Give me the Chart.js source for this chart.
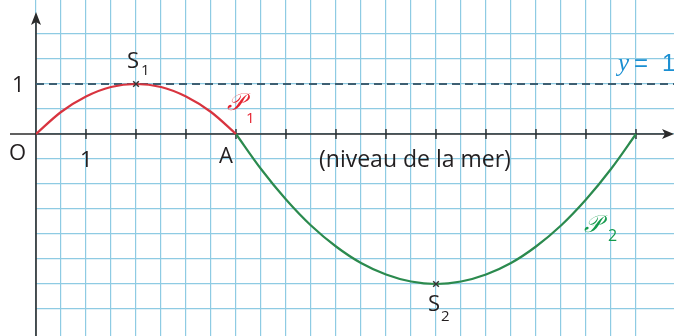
<!DOCTYPE html>
<html>
<head>
<meta charset="utf-8">
<script src="https://cdn.jsdelivr.net/npm/chart.js@4/dist/chart.umd.min.js"></script>
<style>
  html, body { margin: 0; padding: 0; background: #fff; }
  #wrap { width: 674px; height: 336px; position: relative; }
</style>
</head>
<body>
<div id="wrap"><canvas id="c"></canvas></div>
<script>
// P1 : de O à A, sommet S1
const p1X = [0, 0.5, 1, 1.5, 2, 2.5, 3, 3.5, 4];
const p1Y = [0, 0.44, 0.75, 0.94, 1, 0.94, 0.75, 0.44, 0];
// P2 : de A jusqu'à x = 12, sommet S2
const p2X = [4, 4.5, 5, 5.5, 6, 6.5, 7, 7.5, 8, 8.5, 9, 9.5, 10, 10.5, 11, 11.5, 12];
const p2Y = [0, -0.7, -1.31, -1.83, -2.25, -2.58, -2.81, -2.95, -3, -2.95, -2.81, -2.58, -2.25, -1.83, -1.31, -0.7, 0];
// sommets S1, S2
const summitX = [2, 8];
const summitY = [1, -3];
// droite y = 1
const levelY = 1;
// graduations de l'axe des abscisses
const xTicks = [1, 2, 3, 4, 5, 6, 7, 8, 9, 10, 11, 12];

// bornes de la fenêtre (unités du repère)
const X_MAX = 12.76, Y_MAX = 2.68, Y_MIN = -4.04;

const FONT = '"Open Sans", "Noto Sans", sans-serif';
const SCRIPT = 'italic 24px "DejaVu Serif", "Liberation Serif", serif';

const pts = (xs, ys) => xs.map((x, i) => ({ x, y: ys[i] }));

// axes + flèches + graduations (sous les courbes)
const axesPlugin = {
  id: 'axes',
  beforeDatasetsDraw(chart) {
    const { ctx, scales: { x, y } } = chart;
    const x0 = x.getPixelForValue(0), y0 = y.getPixelForValue(0);
    ctx.save();
    ctx.strokeStyle = '#2b2b2b';
    ctx.fillStyle = '#2b2b2b';
    ctx.lineWidth = 1.6;
    // axe des abscisses
    ctx.beginPath();
    ctx.moveTo(10, y0); ctx.lineTo(666, y0); ctx.stroke();
    ctx.beginPath();
    ctx.moveTo(674, y0); ctx.lineTo(662, y0 - 5); ctx.lineTo(665, y0); ctx.lineTo(662, y0 + 5);
    ctx.closePath(); ctx.fill();
    // axe des ordonnées
    ctx.beginPath();
    ctx.moveTo(x0, 336); ctx.lineTo(x0, 20); ctx.stroke();
    ctx.beginPath();
    ctx.moveTo(x0, 12); ctx.lineTo(x0 - 5, 25); ctx.lineTo(x0, 22); ctx.lineTo(x0 + 5, 25);
    ctx.closePath(); ctx.fill();
    // graduations
    ctx.lineWidth = 1.4;
    xTicks.forEach(v => {
      const px = x.getPixelForValue(v);
      ctx.beginPath(); ctx.moveTo(px, y0 - 5); ctx.lineTo(px, y0 + 5); ctx.stroke();
    });
    ctx.restore();
  },
  afterDatasetsDraw(chart) {
    const { ctx, scales: { x, y } } = chart;
    const X = v => x.getPixelForValue(v), Y = v => y.getPixelForValue(v);
    ctx.save();
    ctx.textBaseline = 'alphabetic';
    ctx.textAlign = 'left';
    ctx.fillStyle = '#231f20';
    ctx.font = '22px ' + FONT;
    ctx.fillText('O', 9, 160);
    ctx.fillText('1', X(1) - 6, 167);
    ctx.fillText('1', 12, Y(1) + 8);
    ctx.fillText('A', 219, 163);
    ctx.font = '23px ' + FONT;
    ctx.fillText('(niveau de la mer)', 319, 167);
    // S1, S2
    ctx.font = '22px ' + FONT;
    ctx.fillText('S', 127, 68);
    ctx.fillText('S', 428, 311);
    ctx.font = '15px ' + FONT;
    ctx.fillText('1', 141, 75);
    ctx.fillText('2', 441, 321);
    // P1, P2
    ctx.font = SCRIPT;
    ctx.fillStyle = '#e52330';
    ctx.fillText('𝒫', 227, 110);
    ctx.font = '15px ' + FONT;
    ctx.fillText('1', 246, 123);
    ctx.font = SCRIPT;
    ctx.fillStyle = '#139a4c';
    ctx.fillText('𝒫', 584, 232);
    ctx.font = '16px ' + FONT;
    ctx.fillText('2', 608, 241);
    // y = 1
    ctx.fillStyle = '#1b8fd2';
    ctx.font = 'italic 25px "Liberation Serif", "DejaVu Serif", serif';
    ctx.fillText('y', 618, 71);
    ctx.font = '24px "Liberation Sans", sans-serif';
    ctx.fillText('=', 634, 71);
    ctx.fillText('1', 662, 71);
    ctx.restore();
  }
};

const halfStep = s => {
  s.ticks = s.ticks.filter(t => Math.abs(t.value * 2 - Math.round(t.value * 2)) < 1e-6);
};

new Chart(document.getElementById('c'), {
  type: 'scatter',
  data: {
    datasets: [
      {
        label: 'P1', data: pts(p1X, p1Y), showLine: true, order: 1,
        borderColor: '#d8343f', borderWidth: 2.2, pointRadius: 0,
        cubicInterpolationMode: 'monotone'
      },
      {
        label: 'P2', data: pts(p2X, p2Y), showLine: true, order: 1,
        borderColor: '#2b8a4e', borderWidth: 2.2, pointRadius: 0,
        cubicInterpolationMode: 'monotone'
      },
      {
        label: 'y = 1', data: [{ x: 0, y: levelY }, { x: X_MAX, y: levelY }], showLine: true, order: 3,
        borderColor: '#3d5f72', borderWidth: 1.8, borderDash: [8, 5], pointRadius: 0
      },
      {
        label: 'sommets', data: pts(summitX, summitY), order: 0,
        pointStyle: 'crossRot', pointRadius: 4, borderColor: '#333', borderWidth: 1.5
      }
    ]
  },
  options: {
    responsive: true,
    maintainAspectRatio: false,
    animation: false,
    layout: { autoPadding: false, padding: { left: 36, top: 0, right: 0, bottom: 0 } },
    plugins: { legend: { display: false }, tooltip: { enabled: false } },
    scales: {
      x: {
        type: 'linear', min: 0, max: X_MAX,
        ticks: { display: false, stepSize: 0.5 },
        grid: { color: '#8ecbe3', lineWidth: 1.2, drawTicks: false },
        border: { display: false },
        afterBuildTicks: halfStep,
        afterFit: s => { s.height = 0; }
      },
      y: {
        type: 'linear', min: Y_MIN, max: Y_MAX,
        ticks: { display: false, stepSize: 0.5 },
        grid: { color: '#8ecbe3', lineWidth: 1.2, drawTicks: false },
        border: { display: false },
        afterBuildTicks: halfStep,
        afterFit: s => { s.width = 0; }
      }
    }
  },
  plugins: [axesPlugin]
});
</script>
</body>
</html>
